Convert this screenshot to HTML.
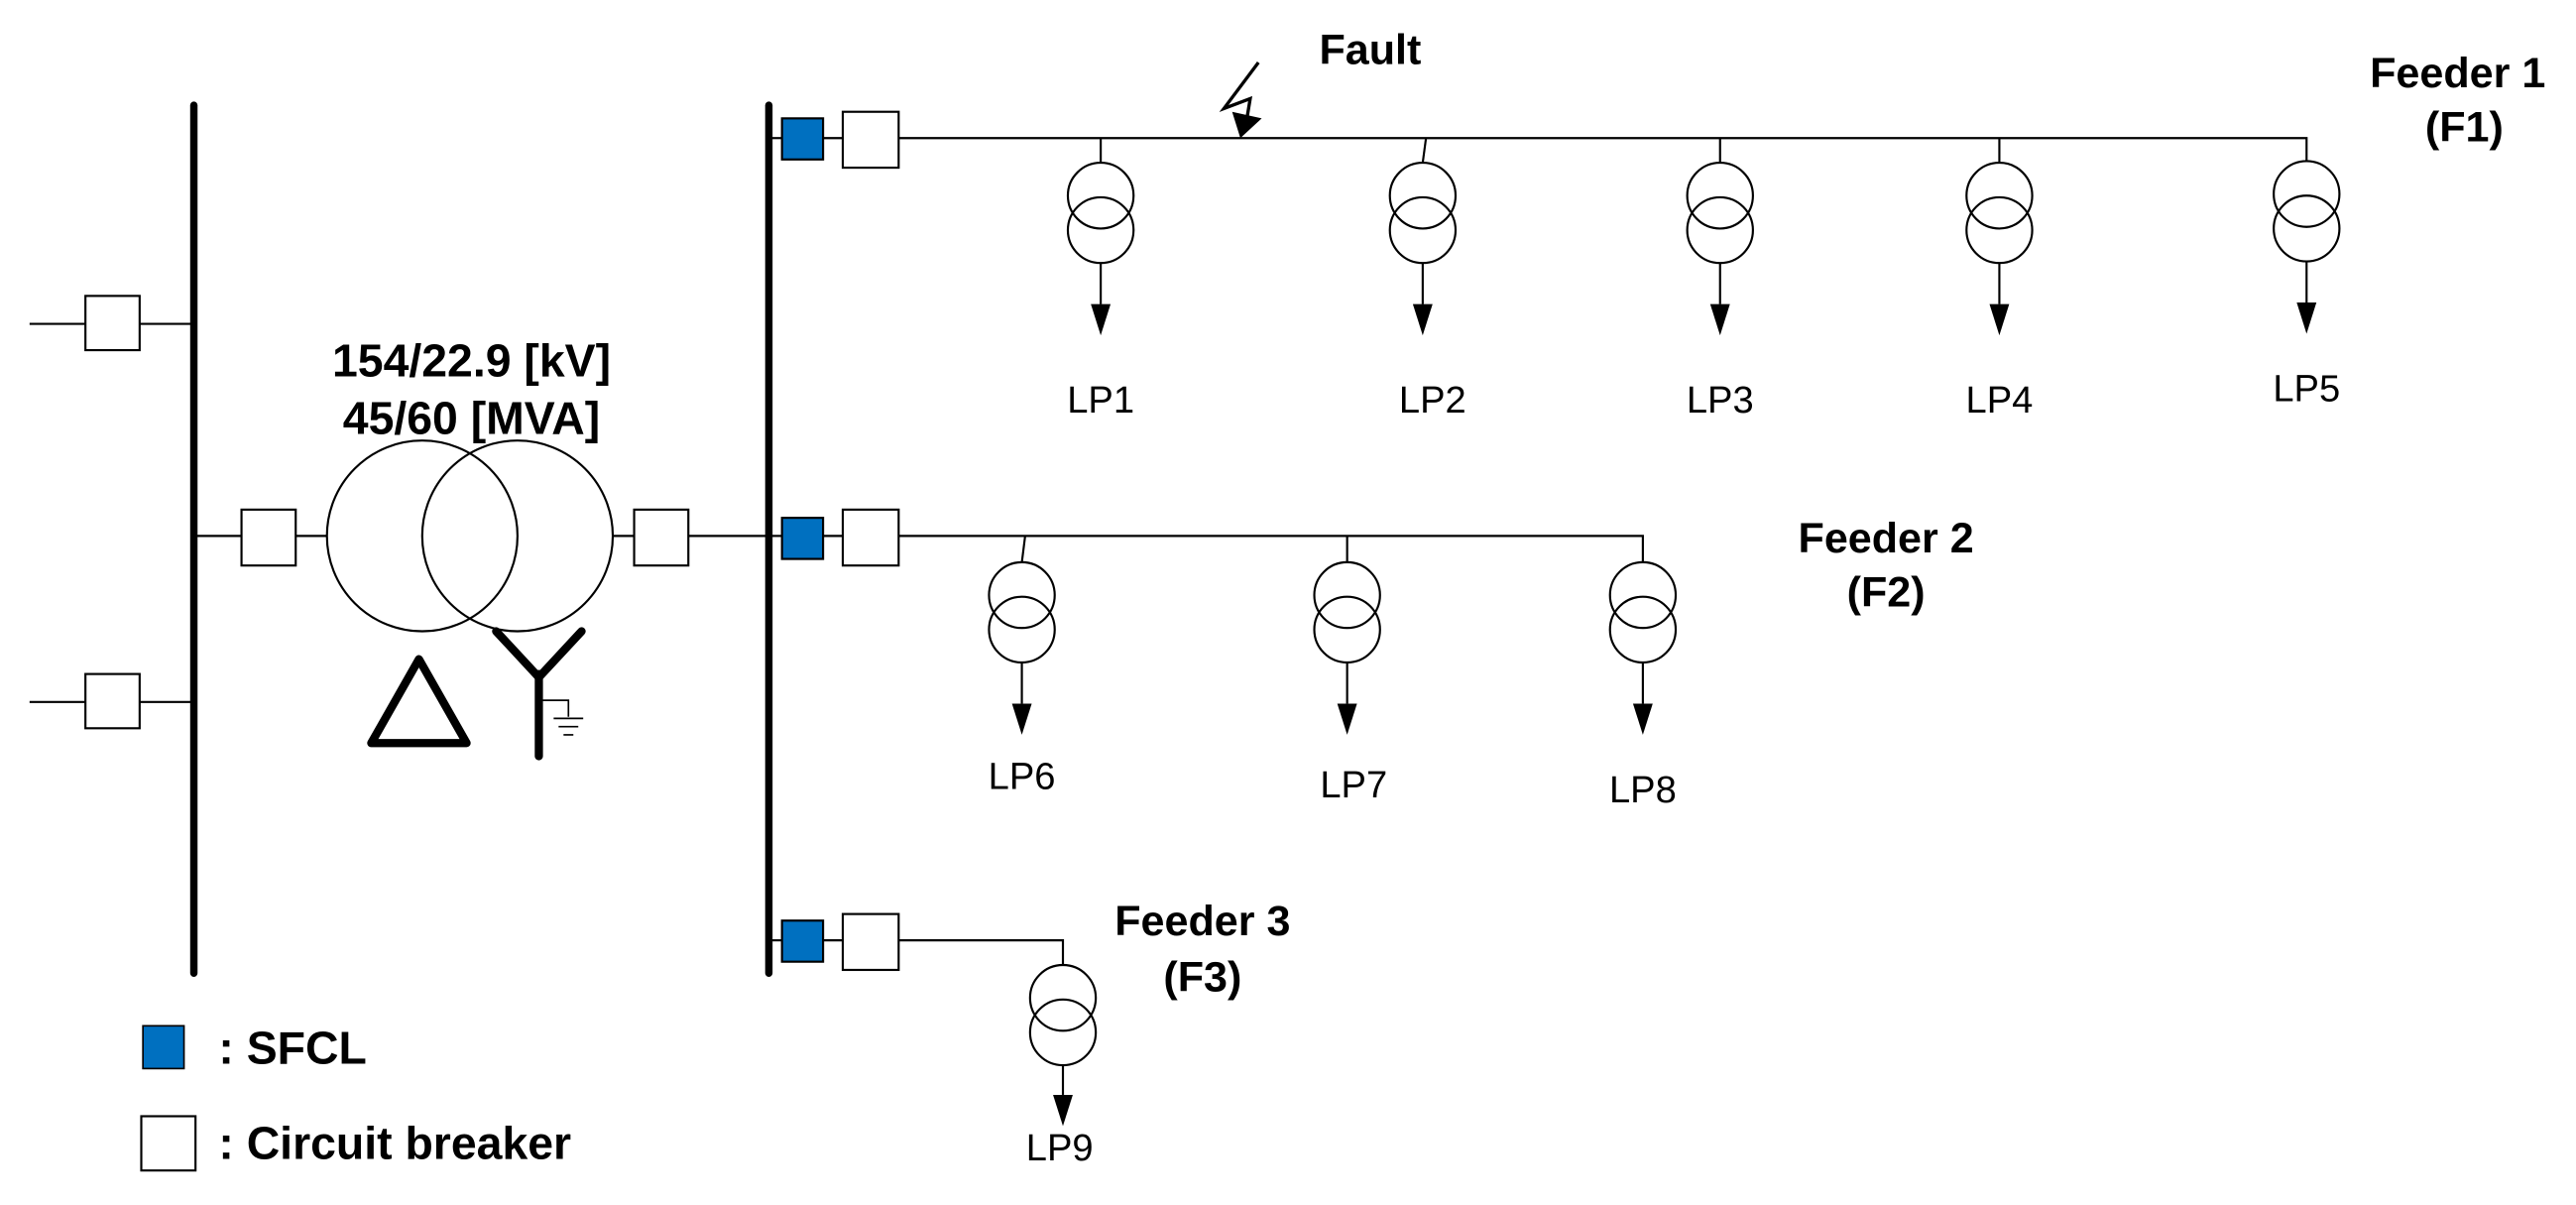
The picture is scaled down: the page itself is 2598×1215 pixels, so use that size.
<!DOCTYPE html>
<html><head><meta charset="utf-8"><style>
html,body{margin:0;padding:0;background:#fff;}
svg{display:block;}
text{font-family:"Liberation Sans",sans-serif;fill:#000;}
.b{font-weight:bold;font-size:26px;}
.b2{font-weight:bold;font-size:28px;}
.r{font-size:23px;}
</style></head><body>
<svg width="2598" height="1215" viewBox="0 0 1568 733" preserveAspectRatio="none" xmlns="http://www.w3.org/2000/svg">
<g stroke="#000" fill="none" stroke-width="1.3">
<line x1="118" y1="64" x2="118" y2="592" stroke-width="4.5" stroke-linecap="round"/>
<line x1="18" y1="197" x2="52" y2="197"/><rect x="52" y="180" width="33" height="33" fill="#fff"/><line x1="85" y1="197" x2="118" y2="197"/>
<line x1="18" y1="427" x2="52" y2="427"/><rect x="52" y="410" width="33" height="33" fill="#fff"/><line x1="85" y1="427" x2="118" y2="427"/>
<line x1="118" y1="326" x2="147" y2="326"/><rect x="147" y="310" width="33" height="34" fill="#fff"/><line x1="180" y1="326" x2="199" y2="326"/>
<circle cx="257" cy="326" r="58"/><circle cx="315" cy="326" r="58"/>
<line x1="373" y1="326" x2="386" y2="326"/><rect x="386" y="310" width="33" height="34" fill="#fff"/><line x1="419" y1="326" x2="468" y2="326"/>
<polygon points="226,452 284,452 255,401" stroke-width="5" stroke-linejoin="round"/>
<polyline points="302,384 328,412 354,384" stroke-width="5" stroke-linecap="round" stroke-linejoin="round"/>
<line x1="328" y1="410" x2="328" y2="460" stroke-width="5" stroke-linecap="round"/>
<polyline points="328,426 346,426 346,436" stroke-width="1"/>
<line x1="337" y1="437" x2="355" y2="437" stroke-width="1"/>
<line x1="340" y1="442" x2="352" y2="442" stroke-width="1"/>
<line x1="343" y1="447" x2="349" y2="447" stroke-width="1"/>
<line x1="468" y1="64" x2="468" y2="592" stroke-width="4.5" stroke-linecap="round"/>
<line x1="468" y1="84" x2="476" y2="84"/><rect x="476" y="72" width="25" height="25" fill="#0070C0"/><line x1="501" y1="84" x2="513" y2="84"/>
<rect x="513" y="68" width="34" height="34" fill="#fff"/>
<polyline points="547,84 1404,84 1404,99"/>
<line x1="468" y1="326" x2="476" y2="326"/><rect x="476" y="315" width="25" height="25" fill="#0070C0"/><line x1="501" y1="326" x2="513" y2="326"/>
<rect x="513" y="310" width="34" height="34" fill="#fff"/>
<polyline points="547,326 1000,326 1000,342"/>
<line x1="468" y1="572" x2="476" y2="572"/><rect x="476" y="560" width="25" height="25" fill="#0070C0"/><line x1="501" y1="572" x2="513" y2="572"/>
<rect x="513" y="556" width="34" height="34" fill="#fff"/>
<polyline points="547,572 647,572 647,587"/>
<line x1="670" y1="84" x2="670" y2="99"/><line x1="868" y1="84" x2="866" y2="99"/><line x1="1047" y1="84" x2="1047" y2="99"/><line x1="1217" y1="84" x2="1217" y2="99"/>
<line x1="624" y1="326" x2="622" y2="342"/><line x1="820" y1="326" x2="820" y2="342"/>
<polyline points="766,38 745,66 761,60 759,72" stroke-width="2" stroke-linejoin="miter"/>
</g>
<polygon points="750,68 768,72 755,84" fill="#000"/>
<g stroke="#000" fill="#fff" stroke-width="1.3">
<circle cx="670" cy="119" r="20"/><circle cx="670" cy="140" r="20" fill="none"/><line x1="670" y1="160" x2="670" y2="185"/>
<circle cx="866" cy="119" r="20"/><circle cx="866" cy="140" r="20" fill="none"/><line x1="866" y1="160" x2="866" y2="185"/>
<circle cx="1047" cy="119" r="20"/><circle cx="1047" cy="140" r="20" fill="none"/><line x1="1047" y1="160" x2="1047" y2="185"/>
<circle cx="1217" cy="119" r="20"/><circle cx="1217" cy="140" r="20" fill="none"/><line x1="1217" y1="160" x2="1217" y2="185"/>
<circle cx="1404" cy="118" r="20"/><circle cx="1404" cy="139" r="20" fill="none"/><line x1="1404" y1="159" x2="1404" y2="184"/>
<circle cx="622" cy="362" r="20"/><circle cx="622" cy="383" r="20" fill="none"/><line x1="622" y1="403" x2="622" y2="428"/>
<circle cx="820" cy="362" r="20"/><circle cx="820" cy="383" r="20" fill="none"/><line x1="820" y1="403" x2="820" y2="428"/>
<circle cx="1000" cy="362" r="20"/><circle cx="1000" cy="383" r="20" fill="none"/><line x1="1000" y1="403" x2="1000" y2="428"/>
<circle cx="647" cy="607" r="20"/><circle cx="647" cy="628" r="20" fill="none"/><line x1="647" y1="648" x2="647" y2="666"/>
</g>
<g fill="#000">
<polygon points="664,185 676,185 670,204"/>
<polygon points="860,185 872,185 866,204"/>
<polygon points="1041,185 1053,185 1047,204"/>
<polygon points="1211,185 1223,185 1217,204"/>
<polygon points="1398,184 1410,184 1404,203"/>
<polygon points="616,428 628,428 622,447"/>
<polygon points="814,428 826,428 820,447"/>
<polygon points="994,428 1006,428 1000,447"/>
<polygon points="641,666 653,666 647,685"/>
</g>
<rect x="87" y="624" width="25" height="26" fill="#0070C0" stroke="#000" stroke-width="1"/>
<rect x="86" y="679" width="33" height="33" fill="#fff" stroke="#000" stroke-width="1.3"/>
<text class="b2" x="287" y="229" text-anchor="middle">154/22.9 [kV]</text>
<text class="b2" x="287" y="264" text-anchor="middle">45/60 [MVA]</text>
<text class="b" x="803" y="39">Fault</text>
<text class="b" x="1496" y="53" text-anchor="middle">Feeder 1</text>
<text class="b" x="1500" y="86" text-anchor="middle">(F1)</text>
<text class="b" x="1148" y="336" text-anchor="middle">Feeder 2</text>
<text class="b" x="1148" y="369" text-anchor="middle">(F2)</text>
<text class="b" x="732" y="569" text-anchor="middle">Feeder 3</text>
<text class="b" x="732" y="603" text-anchor="middle">(F3)</text>
<text class="b2" x="133" y="647">: SFCL</text>
<text class="b2" x="133" y="705">: Circuit breaker</text>
<g class="r" text-anchor="middle">
<text x="670" y="251">LP1</text>
<text x="872" y="251">LP2</text>
<text x="1047" y="251">LP3</text>
<text x="1217" y="251">LP4</text>
<text x="1404" y="244">LP5</text>
<text x="622" y="480">LP6</text>
<text x="824" y="485">LP7</text>
<text x="1000" y="488">LP8</text>
<text x="645" y="706">LP9</text>
</g>
</svg>
</body></html>
